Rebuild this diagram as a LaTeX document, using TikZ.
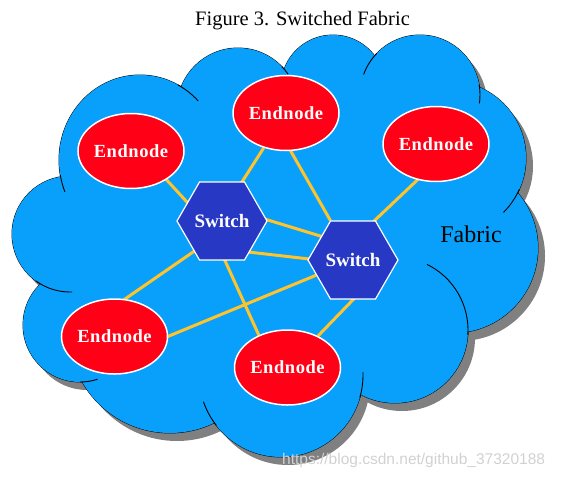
\documentclass[tikz,border=0pt]{standalone}
\usepackage{fontspec}
\setmainfont{Liberation Serif}
\newfontfamily\markfont{Liberation Sans}
\usepackage{tikz}
\usetikzlibrary{shapes.geometric, calc}
\definecolor{myblue}{RGB}{8,160,250}
\definecolor{myred}{RGB}{255,0,22}
\definecolor{mynavy}{RGB}{38,56,196}
\definecolor{myamber}{RGB}{255,196,44}
\definecolor{mygray}{RGB}{128,128,128}
\tikzset{
  endnode/.style={ellipse, draw=white, fill=myred,
    minimum width=106pt, minimum height=75pt, inner sep=0pt,
    text=white, font=\fontsize{18.5}{20}\selectfont\bfseries\addfontfeature{LetterSpace=3}, line width=1.5pt},
  switchnode/.style={regular polygon, regular polygon sides=6,
    draw=white, fill=mynavy, minimum size=90pt, inner sep=0pt,
    text=white, font=\fontsize{19}{21}\selectfont\bfseries, line width=1.2pt},
  link/.style={line width=3pt, color=myamber},
  cloudline/.style={line width=0.9pt, color=black}
}
\pgfdeclarelayer{back}
\pgfsetlayers{back,main}
% lobes of the cloud: x/y/x radius/y radius
\def\lobes{140/160/81/85, 238/109/61/61, 333/87/52/52, 420/95/60/60,
  449/158/77/77, 453/248/85/85, 395/330/73/73, 281/375/82/82,
  170/332/101/101, 80/325/57/57, 70/234/58/58}
% inner ends of the lobes: x/y/x radius/y radius/from/to
\def\tails{140/160/81/85/-62/-44, 140/160/81/85/170/158,
  238/109/61/61/-44/-35, 420/95/60/60/-136/-160, 420/95/60/60/-10/8,
  449/158/77/77/24/45, 395/330/73/73/4/-64, 281/375/82/82/16/-2,
  281/375/82/82/142/161, 80/325/57/57/90/72, 70/234/58/58/126/88}

\begin{document}
\begin{tikzpicture}[x=1pt, y=-1pt]
  \useasboundingbox (0,0) rectangle (561,477);

  \node[anchor=base west, font=\fontsize{20.5}{24}\selectfont, inner sep=0pt] (title) at (195,25) {Figure 3. Switched Fabric};

  \node[endnode] (en1) at (131,151) {Endnode};
  \node[endnode] (en2) at (286,113) {Endnode};
  \node[endnode] (en3) at (436,144) {Endnode};
  \node[endnode] (en4) at (114.5,336.5) {Endnode};
  \node[endnode] (en5) at (287.5,367.5) {Endnode};
  \node[switchnode] (sw1) at (222,221) {Switch};
  \node[switchnode] (sw2) at (353,260) {Switch};
  \node[anchor=base, font=\fontsize{24}{28}\selectfont, inner sep=0pt] (fabric) at (471,242) {Fabric};
  \node[anchor=base west, text=black!18, font=\markfont\fontsize{15.5}{18}\selectfont, inner sep=0pt] (mark) at (282,464) {https://blog.csdn.net/github\_37320188};

  \begin{pgfonlayer}{back}
    % cloud
    \foreach \cx/\cy/\rx/\ry in \lobes
      \fill[mygray] (\cx+7,\cy+8) ellipse [x radius=\rx, y radius=\ry];
    \foreach \cx/\cy/\rx/\ry in \lobes
      \filldraw[cloudline, fill=myblue] (\cx,\cy) ellipse [x radius=\rx, y radius=\ry];
    \foreach \cx/\cy/\rx/\ry in \lobes
      \fill[myblue] (\cx,\cy) ellipse [x radius=\rx, y radius=\ry];
    \fill[myblue] (140,160) -- (238,109) -- (333,87) -- (420,95) -- (449,158)
      -- (453,248) -- (395,330) -- (281,375) -- (170,332) -- (80,325) -- (70,234) -- cycle;
    \foreach \cx/\cy/\rx/\ry/\a/\b in \tails
      \draw[cloudline] ([shift={({\rx*cos(\a)},{\ry*sin(\a)})}]\cx,\cy)
        arc[start angle=\a, end angle=\b, x radius=\rx, y radius=\ry];

    % links
    \draw[link] ($(en1)+(9,0)$) -- ($(sw1)+(-12,6)$);
    \draw[link] (en2) -- ($(sw1)+(-5,0)$);
    \draw[link] ($(en2)+(-17,0)$) -- (sw2);
    \draw[link] ($(en3)+(14,5)$) -- ($(sw2)+(0,-19)$);
    \draw[link] ($(sw1)+(0,-15)$) -- ($(sw2)+(0,-14)$);
    \draw[link] ($(sw1)+(0,28)$) -- ($(sw2)+(0,4)$);
    \draw[link] ($(sw1)+(0,11)$) -- ($(en4)+(4,-33)$);
    \draw[link] ($(sw1)+(-15,0)$) -- ($(en5)+(-14,0)$);
    \draw[link] (sw2) -- ($(en4)+(0,22)$);
    \draw[link] ($(sw2)+(22,17)$) -- (en5);
  \end{pgfonlayer}
\end{tikzpicture}
\end{document}
